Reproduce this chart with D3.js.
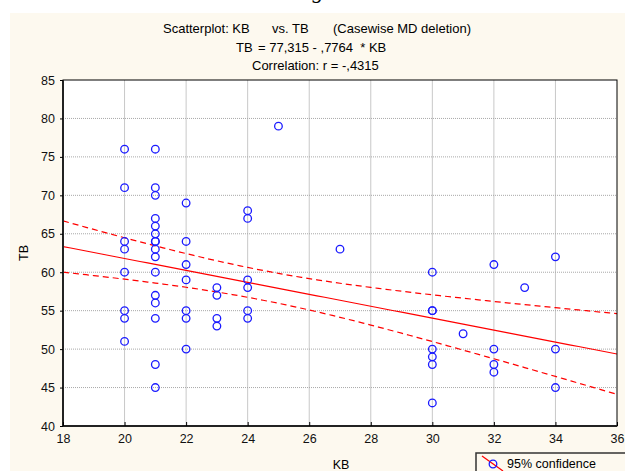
<!DOCTYPE html>
<html>
<head>
<meta charset="utf-8">
<script src="https://cdn.jsdelivr.net/npm/d3@7"></script>
<style>
  html, body { margin: 0; padding: 0; background: #fff; }
  svg { display: block; font-family: "Liberation Sans", Arial, sans-serif; }
</style>
</head>
<body>
<svg width="625" height="471"></svg>
<script>
// observed values, KB column -> list of TB
const kbValues = [20, 21, 22, 23, 24, 25, 27, 30, 31, 32, 33, 34];
const tbByKb = [
  [76, 71, 64, 63, 60, 55, 54, 51],
  [76, 71, 70, 67, 66, 65, 64, 64, 63, 62, 60, 57, 56, 54, 48, 45],
  [69, 64, 61, 59, 55, 54, 50],
  [58, 57, 54, 53],
  [68, 67, 59, 58, 55, 54],
  [79],
  [63],
  [60, 55, 55, 50, 49, 48, 43],
  [52],
  [61, 50, 48, 47],
  [58],
  [62, 50, 45]
];
const xTicks = [18, 20, 22, 24, 26, 28, 30, 32, 34, 36];
const yTicks = [40, 45, 50, 55, 60, 65, 70, 75, 80, 85];
const intercept = 77.315;
const slope = -0.7764;
// title pieces: [text, x, line]
const titleParts = [
  ['Scatterplot: KB', 163, 0],
  ['vs. TB', 272, 0],
  ['(Casewise MD deletion)', 333, 0],
  ['TB', 236, 1],
  ['= 77,315 - ,7764  * KB', 258, 1],
  ['Correlation: r = -,4315', 252, 2]
];

const w = 625;
const h = 471;
const padL = 63, padR = 617, padT = 80, padB = 426;

const svg = d3.select('svg');

// cream page background with white strip on top
svg.append('rect').attr('width', w).attr('height', h).attr('fill', '#fff');
svg.append('rect').attr('x', 10).attr('y', 13).attr('width', w - 10).attr('height', h - 13)
  .attr('fill', '#fdf9ef');
// leftover descender of the text above
svg.append('text').attr('x', 318).attr('y', -2).attr('text-anchor', 'middle')
  .attr('font-family', 'Liberation Serif, serif').attr('font-style', 'italic')
  .attr('font-size', 22).text('g');

const points = [];
kbValues.forEach((kb, i) => tbByKb[i].forEach((tb) => points.push([kb, tb])));

const xScale = d3.scaleLinear().domain([18, 36]).range([padL, padR]);
const yScale = d3.scaleLinear().domain([40, 85]).range([padB, padT]);

// plot area
svg.append('rect').attr('x', padL).attr('y', padT)
  .attr('width', padR - padL).attr('height', padB - padT).attr('fill', '#fff');

// grid
svg.append('g').selectAll('line').data(xTicks.slice(1, -1)).enter().append('line')
  .attr('x1', (d) => xScale(d)).attr('x2', (d) => xScale(d))
  .attr('y1', padT).attr('y2', padB)
  .attr('stroke', '#c8c8c8').attr('stroke-width', 1);
svg.append('g').selectAll('line').data(yTicks.slice(1, -1)).enter().append('line')
  .attr('x1', padL).attr('x2', padR)
  .attr('y1', (d) => yScale(d)).attr('y2', (d) => yScale(d))
  .attr('stroke', '#a8a8a8').attr('stroke-width', 1).attr('stroke-dasharray', '1,1');

// regression line + 95% confidence band
const n = points.length;
const meanX = d3.mean(points, (d) => d[0]);
const sxx = d3.sum(points, (d) => (d[0] - meanX) ** 2);
const sse = d3.sum(points, (d) => (d[1] - (intercept + slope * d[0])) ** 2);
const s = Math.sqrt(sse / (n - 2));
const t = 2.004;
const xs = d3.range(18, 36.01, 0.25);
const fit = (x) => intercept + slope * x;
const half = (x) => t * s * Math.sqrt(1 / n + (x - meanX) ** 2 / sxx);

const line = d3.line().x((d) => xScale(d[0])).y((d) => yScale(d[1]));
const clip = svg.append('clipPath').attr('id', 'plotclip');
clip.append('rect').attr('x', padL).attr('y', padT).attr('width', padR - padL).attr('height', padB - padT);
const plot = svg.append('g').attr('clip-path', 'url(#plotclip)');

plot.append('path').datum(xs.map((x) => [x, fit(x)])).attr('d', line)
  .attr('fill', 'none').attr('stroke', '#ff0000').attr('stroke-width', 1.2);
[1, -1].forEach((sign) => {
  plot.append('path').datum(xs.map((x) => [x, fit(x) + sign * half(x)])).attr('d', line)
    .attr('fill', 'none').attr('stroke', '#ff0000').attr('stroke-width', 1.2)
    .attr('stroke-dasharray', '6,4');
});

// points
svg.append('g').selectAll('circle').data(points).enter().append('circle')
  .attr('cx', (d) => xScale(d[0])).attr('cy', (d) => yScale(d[1])).attr('r', 3.8)
  .attr('fill', 'none').attr('stroke', '#1a1aff').attr('stroke-width', 1.3);

// frame
svg.append('rect').attr('x', padL).attr('y', padT)
  .attr('width', padR - padL).attr('height', padB - padT)
  .attr('fill', 'none').attr('stroke', '#000').attr('stroke-width', 1);
svg.append('path').attr('d', `M${padL},${padT}V${padB}H${padR}`)
  .attr('fill', 'none').attr('stroke', '#222').attr('stroke-width', 2);

// axes
const xAxis = d3.axisBottom(xScale).tickValues(xTicks).tickSize(-4).tickPadding(8);
svg.append('g').attr('transform', `translate(0,${padB})`).call(xAxis)
  .call((g) => g.select('.domain').remove())
  .call((g) => g.selectAll('text').attr('font-size', 12.5).attr('fill', '#111')
    .attr('font-family', 'Liberation Sans, Arial, sans-serif'));
const yAxis = d3.axisLeft(yScale).tickValues(yTicks).tickSize(3).tickPadding(5);
svg.append('g').attr('transform', `translate(${padL},0)`).call(yAxis)
  .call((g) => g.select('.domain').remove())
  .call((g) => g.selectAll('text').attr('font-size', 12.5).attr('fill', '#111')
    .attr('font-family', 'Liberation Sans, Arial, sans-serif'));

// titles
svg.append('g').selectAll('text').data(titleParts).enter().append('text')
  .attr('x', (d) => d[1]).attr('y', (d) => 33 + d[2] * 18.5)
  .attr('font-size', 13).attr('fill', '#000')
  .attr('xml:space', 'preserve').style('white-space', 'pre')
  .text((d) => d[0]);

svg.append('text').attr('x', 341).attr('y', 469).attr('text-anchor', 'middle')
  .attr('font-size', 12.5).text('KB');
svg.append('text').attr('transform', 'translate(28,253) rotate(-90)')
  .attr('text-anchor', 'middle').attr('font-size', 12.5).text('TB');

// legend
svg.append('rect').attr('x', 476).attr('y', 453).attr('width', 160).attr('height', 30)
  .attr('fill', '#fdf9ef').attr('stroke', '#333').attr('stroke-width', 1.5);
svg.append('line').attr('x1', 482).attr('y1', 456).attr('x2', 503).attr('y2', 471)
  .attr('stroke', '#ff0000').attr('stroke-width', 1.2);
svg.append('circle').attr('cx', 493).attr('cy', 464).attr('r', 3.8)
  .attr('fill', 'none').attr('stroke', '#1a1aff').attr('stroke-width', 1.3);
svg.append('text').attr('x', 507).attr('y', 468).attr('font-size', 12.5).text('95% confidence');
</script>
</body>
</html>
